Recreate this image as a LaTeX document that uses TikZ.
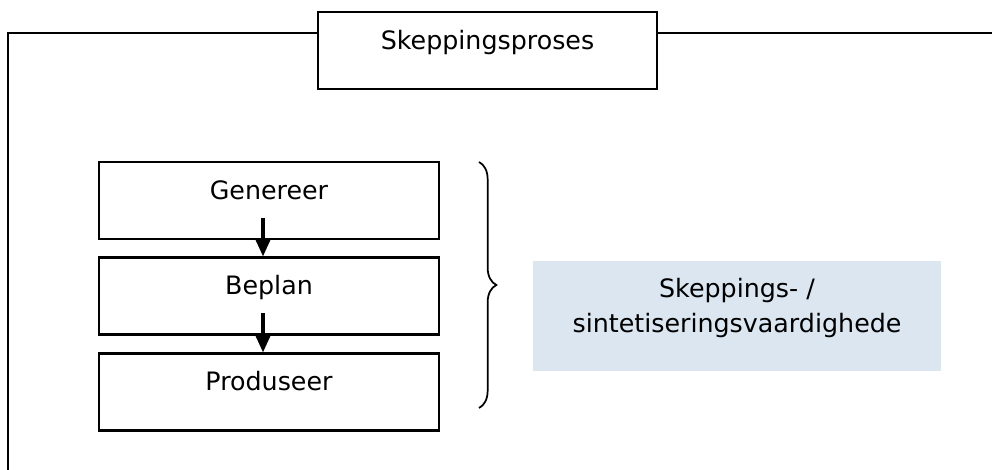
\documentclass[tikz,border=0pt]{standalone}
\usepackage{fontspec}
\setmainfont{DejaVu Sans}
\usepackage{tikz}
\usetikzlibrary{arrows.meta,decorations.pathreplacing}

\definecolor{skillblue}{RGB}{220,230,241}

\tikzset{
  stepbox/.style={draw, line width=1.6pt, minimum width=255pt, inner ysep=0pt,
    text height=28pt, text depth=29.75pt, font=\fontsize{19pt}{26pt}\selectfont},
  flowarrow/.style={line width=2.6pt, -{Triangle[length=13pt,width=11pt]}},
  frameline/.style={line width=1.6pt},
}

\begin{document}
\begin{tikzpicture}[x=0.75pt,y=0.75pt,yscale=-1,xscale=1]
\useasboundingbox (0,0) rectangle (992,470);

% Title Node
\node [stepbox, minimum width=254pt] (title) at (487.5,50.5) {Skeppingsproses};

%Frame Lines
\coordinate (frameY) at (8,33);
\draw [frameline] (8,470) -- (frameY) -- (title.west |- frameY) ;
\draw [frameline] (title.east |- frameY) -- (992,33) ;

% Step Nodes
\node [stepbox] (gen) at (269,200.5) {Genereer};
\node [stepbox] (bep) at (269,296) {Beplan};
\node [stepbox] (prod) at (269,392) {Produseer};

%Straight Lines
\coordinate (a1) at (263,218);
\coordinate (a2) at (263,313);
\draw [flowarrow] (a1) -- (a1 |- bep.north) ;
\draw [flowarrow] (a2) -- (a2 |- prod.north) ;

%Brace
\coordinate (braceTop) at (479,162);
\coordinate (braceBot) at (479,408);
\draw [line width=1.3pt, decorate, decoration={brace, amplitude=13pt}] (braceTop) -- (braceBot) ;

% Skill Node
\node [fill=skillblue, minimum width=306pt, inner ysep=0pt, align=center,
  text height=53.25pt, text depth=29.25pt, font=\fontsize{19pt}{26.25pt}\selectfont]
  (skill) at (737,316) {Skeppings- /\\sintetiseringsvaardighede};

\end{tikzpicture}
\end{document}
